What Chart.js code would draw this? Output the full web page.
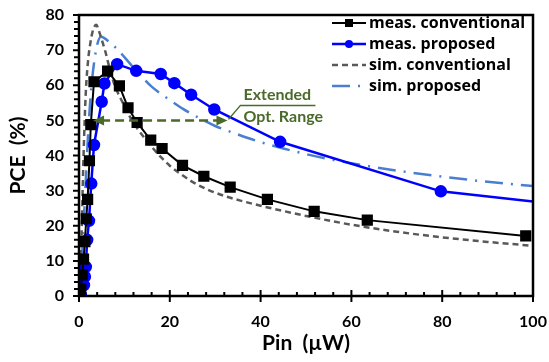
<!DOCTYPE html>
<html>
<head>
<meta charset="utf-8">
<script src="https://cdn.jsdelivr.net/npm/chart.js@4.4.1/dist/chart.umd.min.js"></script>
<style>
  html, body { margin: 0; padding: 0; background: #fff; }
  #wrap { width: 549px; height: 362px; }
</style>
</head>
<body>
<div id="wrap"><canvas id="pce" width="549" height="362"></canvas></div>
<script>
// measured, conventional rectifier
const measConvX = [0, 0.4, 0.7, 1.0, 1.3, 1.6, 1.9, 2.3, 2.6, 3.3, 6.3, 8.9, 10.8, 12.8, 15.8, 18.3, 22.8, 27.5, 33.3, 41.5, 51.8, 63.5, 98.4];
const measConvY = [0, 2, 6, 10.5, 15.5, 22, 27.5, 38.5, 48.8, 61, 64, 59.8, 53.6, 49.4, 44.4, 42, 37.2, 34.1, 31, 27.5, 24.1, 21.6, 17.1];

// measured, proposed rectifier (last point only continues the line)
const measPropX = [0.4, 1.1, 1.3, 1.5, 1.8, 2.2, 2.7, 3.3, 5.0, 5.6, 8.4, 12.6, 18, 21, 24.7, 29.8, 44.3, 79.7, 100];
const measPropY = [0.3, 3.1, 5.5, 8.3, 16, 21.4, 32, 43, 55.3, 60.5, 66, 64.1, 63.2, 60.6, 57.3, 53.1, 43.9, 29.8, 26.9];

// simulation curves
const simConvX = [0, 0.5, 1, 1.5, 2, 2.5, 3, 3.4, 3.8, 4.3, 5, 5.8, 6.7, 7.6, 8.5, 9.5, 11, 12, 13, 14, 16, 18, 20, 22, 25, 28, 32, 36, 40, 45, 50, 55, 60, 70, 80, 90, 100];
const simConvY = [0, 15, 40, 58, 67, 72, 75.3, 76.7, 77.2, 75.8, 73, 69.6, 65, 61, 58, 55.4, 51.5, 49.3, 47.4, 45.7, 42.5, 39.6, 37.1, 35.1, 32.5, 30.5, 28.5, 27, 25.7, 24.2, 22.8, 21.5, 20.3, 18.3, 16.7, 15.4, 14.3];
const simPropX = [0, 0.5, 1, 1.5, 2, 2.5, 3, 3.5, 4, 4.8, 5.5, 6.5, 8, 10, 12, 14, 16, 18, 20, 23, 26, 30, 35, 40, 45, 50, 55, 60, 70, 80, 90, 100];
const simPropY = [0, 8, 20, 33, 46, 56, 63, 68, 71.5, 73.8, 73.5, 72.5, 70.8, 68, 65, 62.2, 59.6, 57.6, 55.8, 53.2, 51, 48.4, 46, 43.8, 42, 40.4, 39, 37.8, 35.7, 34, 32.5, 31.3];

const xTicks = [0, 20, 40, 60, 80, 100];
const yTicks = [0, 10, 20, 30, 40, 50, 60, 70, 80];

// "Extended Opt. Range" arrow
const optRangeX = [3.1, 32.7];
const optRangeY = 50;

const pts = (xs, ys) => xs.map((x, i) => ({ x: x, y: ys[i] }));
const green = '#4a6a2a';
const font = 'Lato, "Open Sans", sans-serif';

const frameAndTicks = {
    id: 'frameAndTicks',
    afterDraw(chart) {
        const ctx = chart.ctx;
        const a = chart.chartArea;
        const xs = chart.scales.x, ys = chart.scales.y;
        ctx.save();
        ctx.strokeStyle = '#000';
        ctx.lineWidth = 2.5;
        ctx.strokeRect(a.left, a.top, a.right - a.left, a.bottom - a.top);
        ctx.lineWidth = 2;
        ctx.beginPath();
        for (let v = 0; v <= 100; v += 4) {
            const px = xs.getPixelForValue(v);
            if (v % 20 === 0) {
                ctx.moveTo(px, a.bottom + 6); ctx.lineTo(px, a.bottom - 6);
            } else {
                ctx.moveTo(px, a.bottom); ctx.lineTo(px, a.bottom - 4);
            }
        }
        for (let v = 0; v <= 80; v += 2) {
            const py = ys.getPixelForValue(v);
            ctx.moveTo(a.left, py);
            ctx.lineTo(a.left - (v % 10 === 0 ? 6 : 5), py);
        }
        ctx.stroke();

        // arrow
        const y0 = ys.getPixelForValue(optRangeY);
        const x1 = xs.getPixelForValue(optRangeX[0]);
        const x2 = xs.getPixelForValue(optRangeX[1]);
        ctx.strokeStyle = green;
        ctx.fillStyle = green;
        ctx.lineWidth = 2.5;
        ctx.setLineDash([9, 5]);
        ctx.beginPath();
        ctx.moveTo(x1 + 8, y0); ctx.lineTo(x2 - 8, y0);
        ctx.stroke();
        ctx.setLineDash([]);
        ctx.beginPath();
        ctx.moveTo(x1, y0); ctx.lineTo(x1 + 11, y0 - 5); ctx.lineTo(x1 + 11, y0 + 5); ctx.closePath();
        ctx.moveTo(x2, y0); ctx.lineTo(x2 - 11, y0 - 5); ctx.lineTo(x2 - 11, y0 + 5); ctx.closePath();
        ctx.fill();

        // callout
        ctx.lineWidth = 1.5;
        ctx.beginPath();
        ctx.moveTo(x2 + 1, y0 - 1);
        ctx.lineTo(x2 + 13, y0 - 15);
        ctx.lineTo(x2 + 88, y0 - 15);
        ctx.stroke();
        ctx.font = 'bold 16px ' + font;
        ctx.textAlign = 'left';
        ctx.textBaseline = 'middle';
        ctx.fillText('Extended', x2 + 16, y0 - 26);
        ctx.fillText('Opt. Range', x2 + 16, y0 - 4);

        // legend
        const rows = [23, 44, 65, 86];
        ctx.font = 'bold 16px "Open Sans", Lato, sans-serif';
        chart.data.datasets.forEach((ds, i) => {
            const ly = rows[i];
            ctx.strokeStyle = ds.borderColor;
            ctx.lineWidth = ds.borderWidth;
            ctx.setLineDash(ds.borderDash || []);
            ctx.beginPath();
            ctx.moveTo(332, ly); ctx.lineTo(366, ly);
            ctx.stroke();
            ctx.setLineDash([]);
            ctx.fillStyle = ds.borderColor;
            if (ds.pointStyle === 'rect') {
                ctx.fillRect(345, ly - 4, 8, 8);
            } else if (ds.pointStyle === 'circle') {
                ctx.beginPath(); ctx.arc(349, ly, 4, 0, Math.PI * 2); ctx.fill();
            }
            ctx.fillStyle = '#000';
            ctx.fillText(ds.label, 369, ly);
        });
        ctx.restore();
    }
};

new Chart(document.getElementById('pce'), {
    type: 'line',
    data: {
        datasets: [{
            label: 'meas. conventional',
            data: pts(measConvX, measConvY),
            borderColor: '#000000',
            backgroundColor: '#000000',
            borderWidth: 2,
            pointStyle: 'rect',
            pointRadius: 6.5,
            tension: 0
        }, {
            label: 'meas. proposed',
            data: pts(measPropX, measPropY),
            borderColor: '#0000ff',
            backgroundColor: '#0000ff',
            borderWidth: 2.5,
            pointStyle: 'circle',
            pointRadius: measPropX.map((x, i) => i === measPropX.length - 1 ? 0 : 5),
            tension: 0
        }, {
            label: 'sim. conventional',
            data: pts(simConvX, simConvY),
            borderColor: '#595959',
            borderWidth: 2.5,
            borderDash: [6, 4],
            pointRadius: 0,
            cubicInterpolationMode: 'monotone'
        }, {
            label: 'sim. proposed',
            data: pts(simPropX, simPropY),
            borderColor: '#4a7fd0',
            borderWidth: 2.5,
            borderDash: [18, 8, 2, 8],
            pointRadius: 0,
            cubicInterpolationMode: 'monotone'
        }]
    },
    options: {
        responsive: false,
        animation: false,
        layout: { padding: { left: 6, top: 15, right: 16, bottom: 6 } },
        scales: {
            x: {
                type: 'linear',
                min: 0,
                max: 100,
                afterFit: (s) => { s.height = 60; s.paddingRight = 0; s.paddingLeft = 0; },
                afterBuildTicks: (s) => { s.ticks = xTicks.map(v => ({ value: v })); },
                grid: { display: false, drawTicks: false },
                border: { display: false },
                ticks: { padding: 16, color: '#000', font: { family: font, size: 16, weight: 'bold' } },
                title: { display: true, text: 'Pin  (µW)', color: '#000', padding: 0, font: { family: font, size: 21, weight: 'bold' } }
            },
            y: {
                min: 0,
                max: 80,
                afterFit: (s) => { s.width = 73; s.paddingTop = 0; s.paddingBottom = 0; },
                afterBuildTicks: (s) => { s.ticks = yTicks.map(v => ({ value: v })); },
                grid: { display: false, drawTicks: false },
                border: { display: false },
                ticks: { padding: 15, color: '#000', font: { family: font, size: 16, weight: 'bold' } },
                title: { display: true, text: 'PCE  (%)', color: '#000', padding: 0, font: { family: font, size: 21, weight: 'bold' } }
            }
        },
        plugins: {
            legend: { display: false },
            tooltip: { enabled: false }
        }
    },
    plugins: [frameAndTicks]
});
</script>
</body>
</html>
